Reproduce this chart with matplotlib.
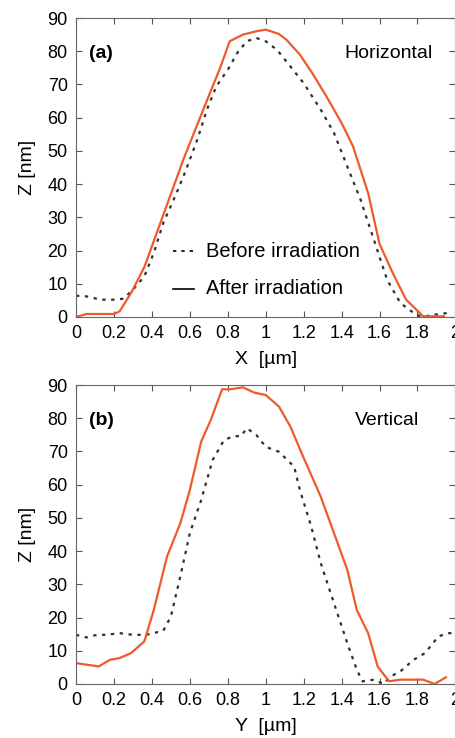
import matplotlib.pyplot as plt
from matplotlib.lines import Line2D

plt.rcParams['font.family'] = ['Liberation Sans', 'DejaVu Sans']

# (a) horizontal profile
xa_after = [0, 0.056, 0.2, 0.23, 0.29, 0.36, 0.43, 0.5, 0.57, 0.64, 0.71, 0.76, 0.81,
            0.88, 0.95, 1.0, 1.07, 1.11, 1.18, 1.25, 1.32, 1.4, 1.46, 1.54, 1.6, 1.67,
            1.74, 1.83, 1.94]
za_after = [0, 0.9, 0.9, 1.7, 7.2, 15, 26, 37, 48, 58, 68, 75, 83,
            85, 86, 86.5, 85.2, 83.4, 79, 73, 66.4, 58.4, 51.4, 37.3, 22, 13.2,
            5.2, 0.2, 0.2]
xa_before = [0, 0.056, 0.13, 0.2, 0.25, 0.3, 0.36, 0.41, 0.46, 0.53, 0.58, 0.64, 0.69,
             0.74, 0.8, 0.85, 0.9, 0.95, 1.0, 1.06, 1.13, 1.2, 1.29, 1.36, 1.43, 1.5,
             1.57, 1.64, 1.71, 1.78, 1.82, 1.89, 1.96]
za_before = [6.4, 6.2, 5.2, 5.2, 5.5, 8.2, 12.2, 19.3, 28.3, 37.3, 44.3, 53.5, 62.4,
             69.5, 74.4, 79.5, 83, 84, 83, 80.4, 75.4, 70.4, 62.4, 55.4, 45.3, 35.3,
             23.3, 11.2, 4.2, 1.2, 0, 0.7, 1.2]

# (b) vertical profile
xb_after = [0, 0.056, 0.12, 0.18, 0.23, 0.29, 0.36, 0.41, 0.48, 0.55, 0.6, 0.66, 0.71,
            0.77, 0.81, 0.88, 0.94, 1.0, 1.07, 1.13, 1.19, 1.29, 1.36, 1.43, 1.48, 1.54,
            1.59, 1.65, 1.71, 1.83, 1.89, 1.95]
zb_after = [6.3, 5.8, 5.3, 7.3, 7.8, 9.3, 12.8, 22.3, 38.4, 48.4, 58.4, 73, 79.4,
            88.7, 88.7, 89.3, 87.7, 87, 83.5, 77.5, 69.4, 56.4, 45.4, 34.4, 22.3, 15.3,
            5.3, 0.8, 1.3, 1.3, 0, 2.0]
xb_before = [0, 0.056, 0.11, 0.16, 0.23, 0.3, 0.37, 0.46, 0.5, 0.55, 0.6, 0.66, 0.72,
             0.78, 0.83, 0.87, 0.9, 0.95, 1.0, 1.07, 1.15, 1.18, 1.24, 1.29, 1.36, 1.43,
             1.48, 1.51, 1.57, 1.62, 1.66, 1.71, 1.78, 1.84, 1.91, 1.96, 2.0]
zb_before = [14.8, 14, 14.8, 14.8, 15.3, 14.8, 14.8, 16, 20.3, 32.4, 45.4, 55.4, 67.4,
             73.4, 74.6, 74.6, 77, 75, 71.4, 69.9, 65.4, 58.4, 47.4, 36.4, 24.3, 12.3,
             4.3, 0.8, 1.3, 0, 2.3, 3.8, 7.3, 9.3, 14.3, 15.3, 15.3]

xticks = [0, 0.2, 0.4, 0.6, 0.8, 1, 1.2, 1.4, 1.6, 1.8, 2]
xticklabels = ['0', '0.2', '0.4', '0.6', '0.8', '1', '1.2', '1.4', '1.6', '1.8', '2']
yticks = [0, 10, 20, 30, 40, 50, 60, 70, 80, 90]

ORANGE = '#EE5A2C'
DOT = '#303030'

fig = plt.figure(figsize=(4.56, 7.38), dpi=100)
ax1 = fig.add_axes([0.1667, 0.5705, 0.832, 0.4051])
ax2 = fig.add_axes([0.1667, 0.0732, 0.832, 0.4051])


def style(ax, xlabel):
    ax.set_xlim(0, 2)
    ax.set_ylim(0, 90)
    ax.set_xticks(xticks)
    ax.set_xticklabels(xticklabels)
    ax.set_yticks(yticks)
    ax.tick_params(direction='in', top=True, right=True, labelsize=13,
                   length=4, width=0.8, color='#555555', pad=6)
    for s in ax.spines.values():
        s.set_color('#666666')
        s.set_linewidth(0.8)
    ax.set_xlabel(xlabel, fontsize=14, labelpad=6)
    ax.set_ylabel('Z [nm]', fontsize=14, labelpad=8)


ax1.plot(xa_before, za_before, linestyle=(0, (1.5, 2.5)), color=DOT, lw=1.6)
ax1.plot(xa_after, za_after, color=ORANGE, lw=1.6)
style(ax1, 'X  [µm]')
ax1.text(0.035, 0.88, '(a)', transform=ax1.transAxes, fontsize=14, fontweight='bold',
         va='center')
ax1.text(0.94, 0.88, 'Horizontal', transform=ax1.transAxes, fontsize=14, ha='right',
         va='center')

# legend drawn with black handles as in the figure
ax1.add_line(Line2D([0.255, 0.31], [0.22, 0.22], transform=ax1.transAxes,
                    color='black', lw=1.2, linestyle=(0, (2, 3))))
ax1.add_line(Line2D([0.255, 0.31], [0.095, 0.095], transform=ax1.transAxes,
                    color='black', lw=1.2))
ax1.text(0.342, 0.22, 'Before irradiation', transform=ax1.transAxes, fontsize=14.5,
         va='center')
ax1.text(0.342, 0.095, 'After irradiation', transform=ax1.transAxes, fontsize=14.5,
         va='center')

ax2.plot(xb_before, zb_before, linestyle=(0, (1.5, 2.5)), color=DOT, lw=1.6)
ax2.plot(xb_after, zb_after, color=ORANGE, lw=1.6)
style(ax2, 'Y  [µm]')
ax2.text(0.035, 0.88, '(b)', transform=ax2.transAxes, fontsize=14, fontweight='bold',
         va='center')
ax2.text(0.905, 0.88, 'Vertical', transform=ax2.transAxes, fontsize=14, ha='right',
         va='center')

fig.savefig('out.png', dpi=100)
